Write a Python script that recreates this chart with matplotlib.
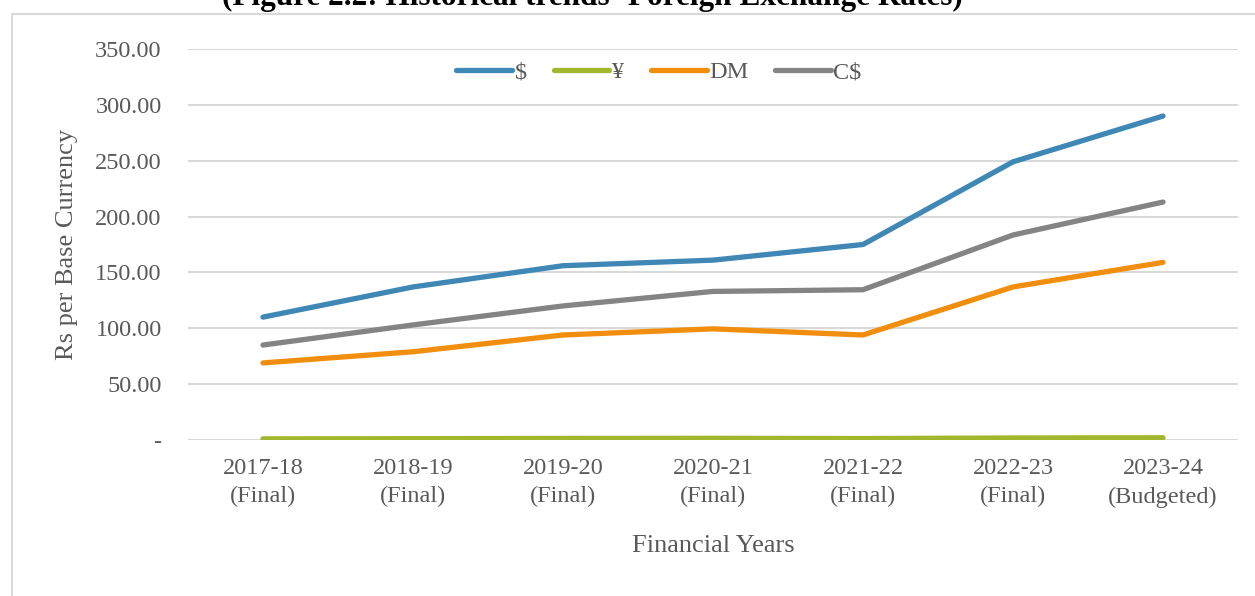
import matplotlib.pyplot as plt
from matplotlib.patches import Rectangle

plt.rcParams['font.family'] = ['Liberation Serif', 'DejaVu Serif']

years = ["2017-18\n(Final)", "2018-19\n(Final)", "2019-20\n(Final)", "2020-21\n(Final)",
         "2021-22\n(Final)", "2022-23\n(Final)", "2023-24\n(Budgeted)"]
usd = [110.0, 137.0, 156.0, 161.0, 175.0, 249.0, 290.0]
yen = [1.0, 1.2, 1.4, 1.5, 1.3, 1.8, 2.0]
dm = [69.0, 79.0, 94.0, 99.5, 94.0, 137.0, 159.0]
cad = [85.0, 103.0, 120.0, 133.0, 134.5, 183.5, 213.0]

series = [("$", usd, "#3f87b5"), ("¥", yen, "#a3b72c"),
          ("DM", dm, "#f28e0e"), ("C$", cad, "#848484")]

text_color = "#595959"
fig = plt.figure(figsize=(12.55, 5.96), dpi=100)
ax = fig.add_axes([188 / 1255, 156 / 596, 1050 / 1255, 391 / 596])

x = range(len(years))
for name, vals, col in series:
    ax.plot(x, vals, color=col, lw=3.8, solid_capstyle="round", label=name)

ax.set_xlim(-0.5, len(years) - 0.5)
ax.set_ylim(0, 350)
ax.set_yticks(range(0, 351, 50))
ax.set_yticklabels(["-"] + ["%.2f" % v for v in range(50, 351, 50)])
ax.set_xticks(list(x))
ax.set_xticklabels(years, linespacing=1.45)
ax.grid(axis="y", color="#d9d9d9", lw=1.5)
ax.set_axisbelow(True)
for s in ax.spines.values():
    s.set_visible(False)
ax.tick_params(length=0, labelsize=17.5, labelcolor=text_color)
ax.tick_params(axis="y", pad=19)
ax.tick_params(axis="x", pad=13)

ax.set_ylabel("Rs per Base Currency", fontsize=19, color=text_color, labelpad=12)
ax.set_xlabel("Financial Years", fontsize=19, color=text_color, labelpad=20)

ax.legend(loc="center", bbox_to_anchor=(659 / 1255, 1 - 72 / 596),
          bbox_transform=fig.transFigure, ncol=4, frameon=False,
          fontsize=17.5, labelcolor=text_color, handlelength=2.3,
          handletextpad=0.1, columnspacing=1.1)

# chart frame
fig.patches.append(Rectangle((12 / 1255, -0.1), 1.2, 1 - 14 / 596 + 0.1,
                             transform=fig.transFigure, fill=False,
                             edgecolor="#d9d9d9", lw=1.5))

fig.text(592 / 1255, 1 - 5 / 596,
         "(Figure 2.2: Historical trends- Foreign Exchange Rates)",
         ha="center", va="baseline", fontsize=22.5, fontweight="bold", color="black")

fig.savefig("out.png", dpi=100)
